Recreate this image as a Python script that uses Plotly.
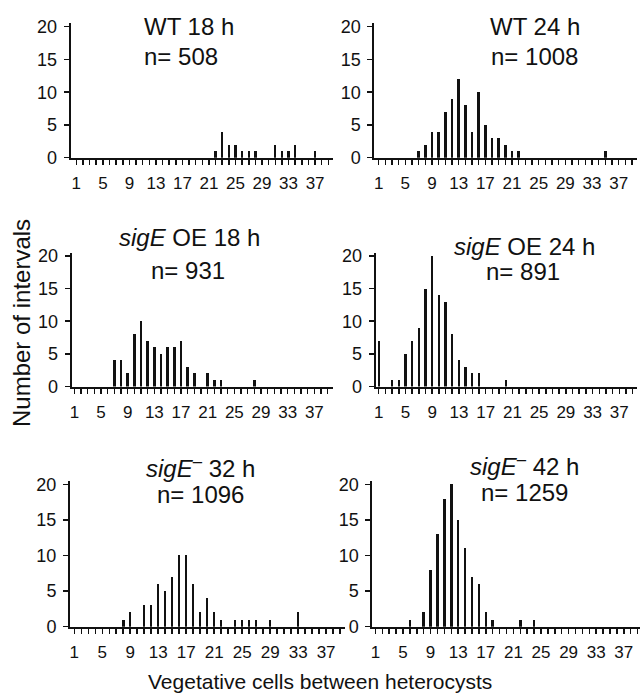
import plotly.graph_objects as go

# ---------------- data ----------------
wt18_x = [22, 23, 24, 25, 26, 27, 28, 31, 32, 33, 34, 37]
wt18_y = [1, 4, 2, 2, 1, 1, 1, 2, 1, 1, 2, 1]

wt24_x = [7, 8, 9, 10, 11, 12, 13, 14, 15, 16, 17, 18, 19, 20, 21, 22, 35]
wt24_y = [1, 2, 4, 4, 7, 9, 12, 8, 4, 10, 5, 3, 3, 2, 1, 1, 1]

oe18_x = [7, 8, 9, 10, 11, 12, 13, 14, 15, 16, 17, 18, 19, 21, 22, 23, 28]
oe18_y = [4, 4, 2, 8, 10, 7, 6, 5, 6, 6, 7, 3, 2, 2, 1, 1, 1]

oe24_x = [1, 3, 4, 5, 6, 7, 8, 9, 10, 11, 12, 13, 14, 15, 16, 20]
oe24_y = [7, 1, 1, 5, 7, 9, 15, 20, 14, 13, 8, 4, 3, 2, 2, 1]

m32_x = [8, 9, 11, 12, 13, 14, 15, 16, 17, 18, 19, 20, 21, 22, 24, 25, 26, 27, 29, 33]
m32_y = [1, 2, 3, 3, 6, 5, 7, 10, 10, 6, 2, 4, 2, 1, 1, 1, 1, 1, 1, 2]

m42_x = [6, 8, 9, 10, 11, 12, 13, 14, 15, 16, 17, 18, 22, 24]
m42_y = [1, 2, 8, 13, 18, 20, 15, 11, 7, 6, 2, 1, 1, 1]

titles = ["WT 18 h", "WT 24 h", "<i>sigE</i> OE 18 h", "<i>sigE</i> OE 24 h",
          "<i>sigE</i><sup>–</sup> 32 h", "<i>sigE</i><sup>–</sup> 42 h"]
n_labels = ["n= 508", "n= 1008", "n= 931", "n= 891", "n= 1096", "n= 1259"]

x_tick_vals = [1, 5, 9, 13, 17, 21, 25, 29, 33, 37]
y_tick_vals = [0, 5, 10, 15, 20]

series = [(wt18_x, wt18_y), (wt24_x, wt24_y), (oe18_x, oe18_y),
          (oe24_x, oe24_y), (m32_x, m32_y), (m42_x, m42_y)]

# ---------------- layout (pixel geometry) ----------------
W, H = 641, 699
panels = [
    dict(l=70.7, r=333.0, xr=[0.15, 39.7], b=157.7, t=23.4, title=(189, 26), n=(181, 57)),
    dict(l=374.3, r=636.7, xr=[0.35, 39.7], b=157.7, t=23.4, title=(535, 26), n=(534, 57)),
    dict(l=71.7, r=333.0, xr=[0.6, 39.8], b=386.5, t=252.7, title=(189, 238), n=(188, 270)),
    dict(l=375.7, r=636.7, xr=[0.55, 39.6], b=386.5, t=252.7, title=(524, 246), n=(523, 272)),
    dict(l=70.0, r=345.0, xr=[0.39, 39.7], b=626.7, t=480.7, title=(200, 467), n=(201, 494)),
    dict(l=372.3, r=640.0, xr=[0.55, 39.35], b=626.7, t=480.7, title=(524, 465), n=(524, 492)),
]

FONT = "Liberation Sans, Arial, sans-serif"
fig = go.Figure()
annotations = []
for i, ((xs, ys), p) in enumerate(zip(series, panels)):
    k = "" if i == 0 else str(i + 1)
    fig.add_trace(go.Bar(x=xs, y=ys, width=0.36, marker=dict(color="#111111", line=dict(width=0)),
                         xaxis="x" + k, yaxis="y" + k, showlegend=False))
    fig.layout["xaxis" + k] = dict(
        domain=[p["l"] / W, p["r"] / W], range=p["xr"], anchor="y" + k, automargin=False,
        tickvals=x_tick_vals, ticks="outside", ticklen=5, tickwidth=1.5, tickcolor="#111",
        minor=dict(dtick=1, tick0=0, ticks="outside", ticklen=5, tickwidth=1.5, tickcolor="#111"),
        showline=True, linewidth=2, linecolor="#111", showgrid=False, zeroline=False,
        tickfont=dict(size=17, color="#111", family=FONT), ticklabelstandoff=4,
        fixedrange=True)
    fig.layout["yaxis" + k] = dict(
        domain=[1 - p["b"] / H, 1 - p["t"] / H], range=[0, 20.5], anchor="x" + k, automargin=False,
        tickvals=y_tick_vals, ticks="outside", ticklen=5, tickwidth=1.5, tickcolor="#111",
        showline=True, linewidth=2, linecolor="#111", showgrid=False, zeroline=False,
        tickfont=dict(size=18, color="#111", family=FONT), ticklabelstandoff=3, fixedrange=True)
    annotations.append(dict(text=titles[i], x=p["title"][0] / W, y=1 - p["title"][1] / H,
                            xref="paper", yref="paper", showarrow=False,
                            xanchor="center", yanchor="middle",
                            font=dict(size=24, color="#111", family=FONT)))
    annotations.append(dict(text=n_labels[i], x=p["n"][0] / W, y=1 - p["n"][1] / H,
                            xref="paper", yref="paper", showarrow=False,
                            xanchor="center", yanchor="middle",
                            font=dict(size=24, color="#111", family=FONT)))

annotations.append(dict(text="Number of intervals", x=21 / W, y=1 - 323 / H, xref="paper", yref="paper",
                        showarrow=False, textangle=-90, xanchor="center", yanchor="middle",
                        font=dict(size=24, color="#111", family=FONT)))
annotations.append(dict(text="Vegetative cells between heterocysts", x=320 / W, y=1 - 681 / H,
                        xref="paper", yref="paper", showarrow=False, xanchor="center", yanchor="middle",
                        font=dict(size=21, color="#111", family=FONT)))

fig.update_layout(width=W, height=H, margin=dict(l=0, r=0, t=0, b=0, autoexpand=False),
                  template="none",
                  paper_bgcolor="white", plot_bgcolor="white", bargap=0,
                  annotations=annotations, font=dict(family=FONT, color="#111"))
fig.write_html("out.html", config={"displayModeBar": False, "staticPlot": True},
               post_script="document.body.style.margin='0';document.body.style.overflow='hidden';")
